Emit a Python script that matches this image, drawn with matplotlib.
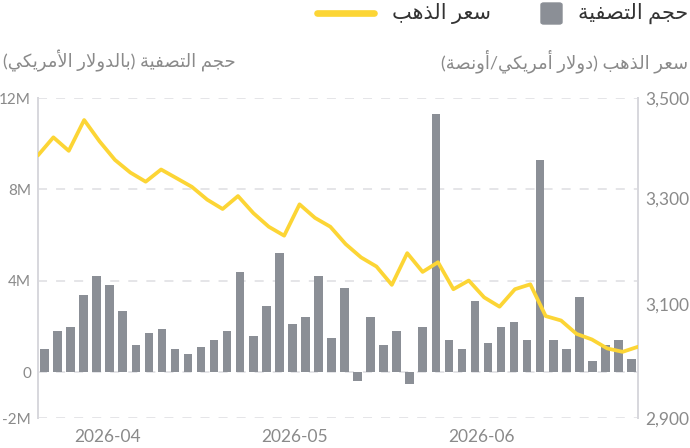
import matplotlib
matplotlib.use("Agg")
import matplotlib.pyplot as plt
import numpy as np
from matplotlib.lines import Line2D
from matplotlib.patches import FancyBboxPatch
from matplotlib.ticker import FixedLocator, NullLocator

plt.rcParams['font.family'] = ['Lato', 'DejaVu Sans']

# Clearing volume (USD), one bar per period
volume = [1.0, 1.8, 2.0, 3.4, 4.2, 3.8, 2.7, 1.2, 1.7, 1.9, 1.0, 0.8, 1.1, 1.4, 1.8,
          4.4, 1.6, 2.9, 5.2, 2.1, 2.4, 4.2, 1.5, 3.7, -0.4, 2.4, 1.2, 1.8, -0.5, 2.0,
          11.3, 1.4, 1.0, 3.1, 1.3, 2.0, 2.2, 1.4, 9.3, 1.4, 1.0, 3.3, 0.5, 1.2, 1.4, 0.6]
volume = np.array(volume) * 1e6

# Gold price (USD/oz)
gold = [3384, 3420, 3393, 3455, 3412, 3375, 3350, 3332, 3356, 3339,
        3322, 3297, 3279, 3304, 3271, 3245, 3228, 3288, 3262, 3245,
        3212, 3187, 3170, 3136, 3195, 3160, 3178, 3128, 3144, 3113,
        3096, 3128, 3137, 3079, 3071, 3047, 3037, 3021, 3015, 3024]

month_labels = ['2026-04', '2026-05', '2026-06']
month_pos = [4.8, 19.15, 33.5]

vol_ticks = [-2e6, 0, 4e6, 8e6, 12e6]
vol_labels = ['-2M', '0', '4M', '8M', '12M']
gold_ticks = [2900, 3100, 3300, 3500]
gold_labels = ['2,900', '3,100', '3,300', '3,500']

legend_bar = "حجم التصفية"
legend_line = "سعر الذهب"
label_left = "حجم التصفية (بالدولار الأمريكي)"
label_right = "سعر الذهب (دولار أمريكي/أونصة)"

# matplotlib has no Arabic shaping, so map letters to presentation forms
FORMS = {
    'ا': ('\uFE8D', '\uFE8E', None, None),
    'أ': ('\uFE83', '\uFE84', None, None),
    'ب': ('\uFE8F', '\uFE90', '\uFE91', '\uFE92'),
    'ت': ('\uFE95', '\uFE96', '\uFE97', '\uFE98'),
    'ة': ('\uFE93', '\uFE94', None, None),
    'ج': ('\uFE9D', '\uFE9E', '\uFE9F', '\uFEA0'),
    'ح': ('\uFEA1', '\uFEA2', '\uFEA3', '\uFEA4'),
    'د': ('\uFEA9', '\uFEAA', None, None),
    'ذ': ('\uFEAB', '\uFEAC', None, None),
    'ر': ('\uFEAD', '\uFEAE', None, None),
    'س': ('\uFEB1', '\uFEB2', '\uFEB3', '\uFEB4'),
    'ص': ('\uFEB9', '\uFEBA', '\uFEBB', '\uFEBC'),
    'ع': ('\uFEC9', '\uFECA', '\uFECB', '\uFECC'),
    'ف': ('\uFED1', '\uFED2', '\uFED3', '\uFED4'),
    'ك': ('\uFED9', '\uFEDA', '\uFEDB', '\uFEDC'),
    'ل': ('\uFEDD', '\uFEDE', '\uFEDF', '\uFEE0'),
    'م': ('\uFEE1', '\uFEE2', '\uFEE3', '\uFEE4'),
    'ن': ('\uFEE5', '\uFEE6', '\uFEE7', '\uFEE8'),
    'ه': ('\uFEE9', '\uFEEA', '\uFEEB', '\uFEEC'),
    'و': ('\uFEED', '\uFEEE', None, None),
    'ي': ('\uFEF1', '\uFEF2', '\uFEF3', '\uFEF4'),
}
LAM_ALEF = {'ا': ('\uFEFB', '\uFEFC'), 'أ': ('\uFEF7', '\uFEF8')}


def shape(text):
    out = []
    prev_joins = False
    i = 0
    while i < len(text):
        c = text[i]
        nxt = text[i + 1] if i + 1 < len(text) else ''
        if c not in FORMS:
            out.append(c)
            prev_joins = False
            i += 1
            continue
        if c == 'ل' and nxt in LAM_ALEF:
            out.append(LAM_ALEF[nxt][1 if prev_joins else 0])
            prev_joins = False
            i += 2
            continue
        iso, fin, ini, med = FORMS[c]
        dual = ini is not None
        next_joins = dual and nxt in FORMS
        if prev_joins and next_joins:
            out.append(med)
        elif prev_joins:
            out.append(fin)
        elif next_joins:
            out.append(ini)
        else:
            out.append(iso)
        prev_joins = dual
        i += 1
    mirror = {'(': ')', ')': '('}
    return ''.join(mirror.get(ch, ch) for ch in reversed(out))


W, H = 690, 448
BAR_COLOR = '#8b8f96'
GOLD_COLOR = '#fcd535'
GRID_COLOR = '#e3e3e6'
SPINE_COLOR = '#d8d8dd'
TICK_COLOR = '#8a8a8a'


def px(x, y):
    return x / W, 1 - y / H


fig = plt.figure(figsize=(W / 100, H / 100), dpi=100)
ax = fig.add_axes([38 / W, 30 / H, 600 / W, 320 / H])

x = np.arange(len(volume))
ax.bar(x, volume, width=0.66, color=BAR_COLOR, zorder=2)
ax.set_xlim(-0.5, len(volume) - 0.5)
ax.set_ylim(-2e6, 12e6)
ax.set_yticks(vol_ticks)
ax.set_yticklabels(vol_labels)
ax.set_xticks(month_pos)
ax.set_xticklabels(month_labels)
ax.grid(axis='y', color=GRID_COLOR, linestyle=(0, (5, 5)), linewidth=1.3, zorder=0)
ax.set_axisbelow(True)
ax.tick_params(axis='both', length=0, labelcolor=TICK_COLOR)
ax.tick_params(axis='y', pad=5, labelsize=11)
ax.tick_params(axis='x', pad=8, labelsize=12.5)

ax2 = ax.twinx()
gx = np.linspace(-0.5, len(volume) - 0.5, len(gold))
ax2.plot(gx, gold, color=GOLD_COLOR, linewidth=2.7, solid_joinstyle='round',
         solid_capstyle='round', zorder=3)
ax2.set_yscale('log')
ax2.set_ylim(2900, 3500)
ax2.yaxis.set_major_locator(FixedLocator(gold_ticks))
ax2.yaxis.set_minor_locator(NullLocator())
ax2.set_yticklabels(gold_labels)
ax2.tick_params(axis='y', length=0, labelsize=12.5, labelcolor=TICK_COLOR, pad=5)

for a in (ax, ax2):
    a.spines['top'].set_visible(False)
    a.spines['bottom'].set_visible(False)
    a.spines['left'].set_color(SPINE_COLOR)
    a.spines['right'].set_color(SPINE_COLOR)
    a.spines['left'].set_linewidth(1.4)
    a.spines['right'].set_linewidth(1.4)

# axis titles above the plot
fig.text(*px(3, 61), shape(label_left), ha='left', va='center',
         fontsize=13, color=TICK_COLOR)
fig.text(*px(688, 61), shape(label_right), ha='right', va='center',
         fontsize=13, color=TICK_COLOR)

# legend drawn by hand, right to left
fig.add_artist(Line2D([px(317, 13)[0], px(374, 13)[0]], [px(317, 13)[1]] * 2,
                      transform=fig.transFigure, color=GOLD_COLOR, linewidth=4.8,
                      solid_capstyle='round'))
fig.text(*px(491, 13), shape(legend_line), ha='right', va='center',
         fontsize=15, color='#333333')
sx, sy = px(541, 24)
fig.add_artist(FancyBboxPatch((sx, sy), 21 / W, 21 / H,
                              boxstyle='round,pad=0,rounding_size=0.004',
                              transform=fig.transFigure, color=BAR_COLOR))
fig.text(*px(688, 13), shape(legend_bar), ha='right', va='center',
         fontsize=15, color='#333333')

fig.savefig('out.png', dpi=100)
